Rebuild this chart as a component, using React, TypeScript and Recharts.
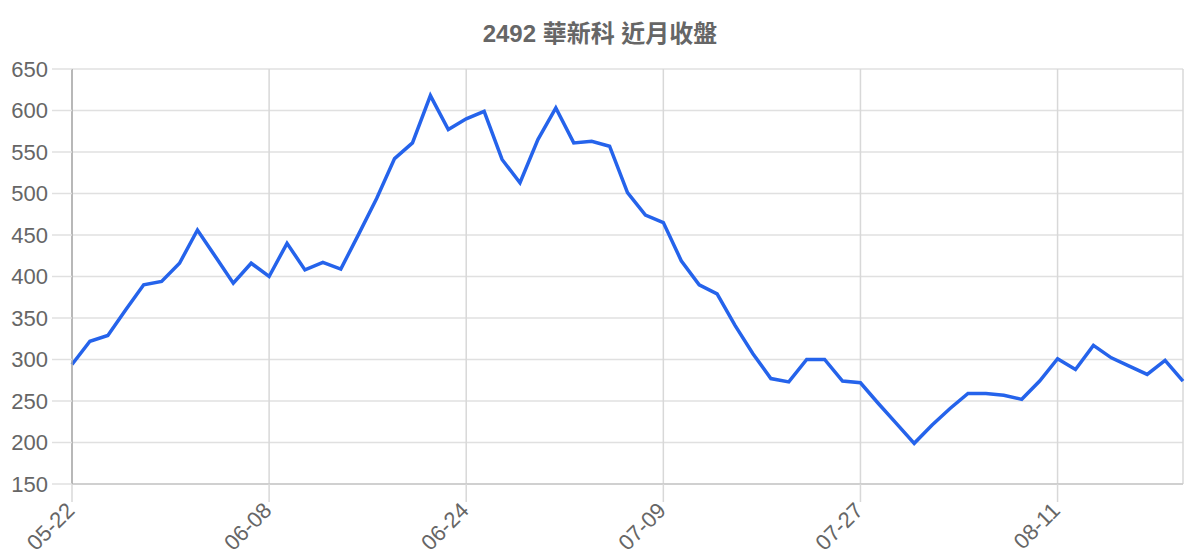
import React from 'react';
import { LineChart, Line, XAxis, YAxis, CartesianGrid } from 'recharts';

const dates: string[] = [
  '05-22', '05-23', '05-24', '05-25', '05-28', '05-29', '05-30', '05-31', '06-01', '06-04', '06-06',
  '06-08', '06-11', '06-12', '06-13', '06-14', '06-15', '06-18', '06-19', '06-20', '06-21', '06-22',
  '06-24', '06-25', '06-26', '06-27', '06-28', '06-29', '07-02', '07-03', '07-04', '07-05', '07-06',
  '07-09', '07-10', '07-11', '07-12', '07-13', '07-16', '07-17', '07-18', '07-19', '07-20', '07-24',
  '07-27', '07-30', '07-31', '08-01', '08-02', '08-03', '08-04', '08-05', '08-06', '08-07', '08-08',
  '08-11', '08-12', '08-13', '08-14', '08-15', '08-18', '08-19', '08-20',
];

const closes: number[] = [
  294, 322, 329, 360, 390, 394, 416, 456, 424, 392, 416,
  400, 440, 408, 417, 409, 451, 494, 542, 561, 618, 577,
  590, 599, 541, 513, 565, 603, 561, 563, 557, 501, 474,
  465, 419, 390, 379, 341, 307, 277, 273, 300, 300, 274,
  272, 247, 223, 199, 221, 241, 259, 259, 257, 252, 274,
  301, 288, 317, 302, 292, 282, 299, 274,
];

const xTickIndexes: number[] = [0, 11, 22, 33, 44, 55];
const yTicks: number[] = [150, 200, 250, 300, 350, 400, 450, 500, 550, 600, 650];
const title = '2492 華新科 近月收盤';

const data = dates.map((d, i) => ({ idx: i, date: d, close: closes[i] }));

const FONT = '"Liberation Sans", Arial, "Noto Sans CJK TC", sans-serif';

const XTick = (props: any) => {
  const { x, y, payload } = props;
  const label = dates[payload.value] ?? '';
  return (
    <g transform={`translate(${x},${y})`}>
      <text
        transform="rotate(-45)"
        textAnchor="end"
        dy="0.25em"
        fill="#666"
        fontSize={22}
        fontFamily={FONT}
      >
        {label}
      </text>
    </g>
  );
};

export default function App() {
  return (
    <div style={{ position: 'absolute', left: 0, top: 0, width: 1200, height: 560, background: '#fff' }}>
      <div
        style={{
          position: 'absolute',
          left: 0,
          top: 22,
          width: 1200,
          textAlign: 'center',
          fontFamily: FONT,
          fontWeight: 'bold',
          fontSize: 24,
          lineHeight: '24px',
          color: '#666',
        }}
      >
        {title}
      </div>
      <LineChart
        width={1200}
        height={560}
        data={data}
        margin={{ top: 69, right: 17, left: 0, bottom: 0 }}
        style={{ fontFamily: FONT }}
      >
        <CartesianGrid horizontal={true} vertical={false} stroke="#e0e0e0" strokeWidth={1.5} />
        <CartesianGrid horizontal={false} vertical={true} stroke="#d8d8d8" strokeWidth={1.5} />
        <XAxis
          dataKey="idx"
          type="number"
          domain={[0, dates.length - 1]}
          ticks={xTickIndexes}
          interval={0}
          height={76}
          tickSize={18}
          tickMargin={6}
          tickLine={{ stroke: '#d8d8d8', strokeWidth: 1.5 }}
          axisLine={{ stroke: '#c8c8c8', strokeWidth: 1.5 }}
          tick={<XTick />}
        />
        <YAxis
          type="number"
          domain={[150, 650]}
          ticks={yTicks}
          interval={0}
          width={72}
          tickSize={20}
          tickMargin={4}
          tickLine={{ stroke: '#e0e0e0', strokeWidth: 1.5 }}
          axisLine={{ stroke: '#aaaaaa', strokeWidth: 1.5 }}
          tick={{ fill: '#666', fontSize: 22, fontFamily: FONT }}
        />
        <Line
          type="linear"
          dataKey="close"
          stroke="#2563eb"
          strokeWidth={3.5}
          dot={false}
          activeDot={false}
          isAnimationActive={false}
        />
      </LineChart>
    </div>
  );
}
